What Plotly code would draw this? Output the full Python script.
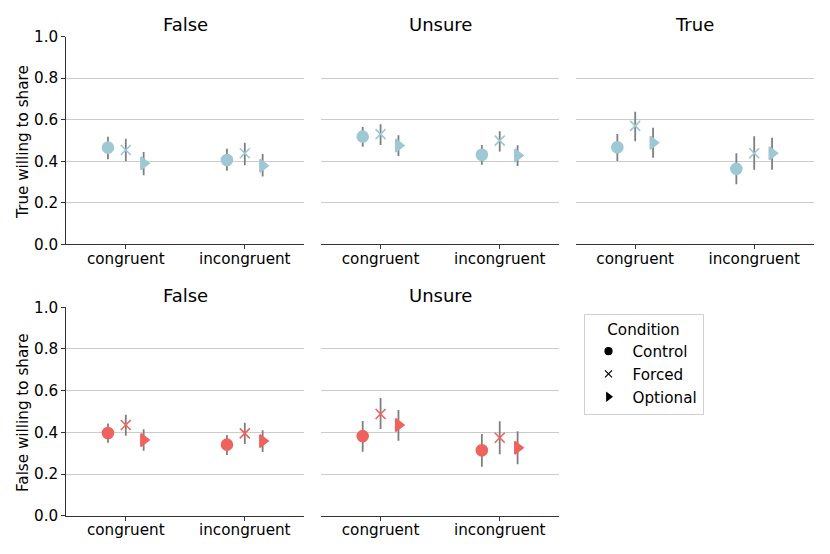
import plotly.graph_objects as go

categories = ["congruent", "incongruent"]
conditions = ["Control", "Forced", "Optional"]
columns = ["False", "Unsure", "True"]

# Row 1: True willing to share; mean, lower CI, upper CI per condition, per category
true_mean = {
    "False":  {"Control": [0.465, 0.406], "Forced": [0.454, 0.438], "Optional": [0.390, 0.378]},
    "Unsure": {"Control": [0.518, 0.431], "Forced": [0.530, 0.499], "Optional": [0.475, 0.427]},
    "True":   {"Control": [0.467, 0.363], "Forced": [0.570, 0.438], "Optional": [0.489, 0.438]},
}
true_lo = {
    "False":  {"Control": [0.409, 0.354], "Forced": [0.400, 0.380], "Optional": [0.332, 0.326]},
    "Unsure": {"Control": [0.470, 0.383], "Forced": [0.478, 0.446], "Optional": [0.425, 0.377]},
    "True":   {"Control": [0.401, 0.289], "Forced": [0.496, 0.359], "Optional": [0.417, 0.359]},
}
true_hi = {
    "False":  {"Control": [0.518, 0.460], "Forced": [0.508, 0.489], "Optional": [0.444, 0.435]},
    "Unsure": {"Control": [0.565, 0.478], "Forced": [0.578, 0.544], "Optional": [0.525, 0.477]},
    "True":   {"Control": [0.531, 0.438], "Forced": [0.638, 0.520], "Optional": [0.561, 0.513]},
}

# Row 2: False willing to share
false_mean = {
    "False":  {"Control": [0.397, 0.341], "Forced": [0.435, 0.395], "Optional": [0.363, 0.358]},
    "Unsure": {"Control": [0.382, 0.314], "Forced": [0.488, 0.374], "Optional": [0.435, 0.326]},
}
false_lo = {
    "False":  {"Control": [0.350, 0.291], "Forced": [0.384, 0.344], "Optional": [0.312, 0.306]},
    "Unsure": {"Control": [0.307, 0.235], "Forced": [0.416, 0.295], "Optional": [0.360, 0.247]},
}
false_hi = {
    "False":  {"Control": [0.443, 0.387], "Forced": [0.485, 0.446], "Optional": [0.415, 0.410]},
    "Unsure": {"Control": [0.454, 0.392], "Forced": [0.565, 0.453], "Optional": [0.507, 0.405]},
}

y_titles = ["True willing to share", "False willing to share"]
yticks = [0.0, 0.2, 0.4, 0.6, 0.8, 1.0]

BLUE = "#9dc8d4"
RED = "#f0625e"
symbols = {"Control": "circle", "Forced": "x-thin", "Optional": "triangle-right"}
dodge = {"Control": -0.15, "Forced": 0.0, "Optional": 0.15}

W, H = 830, 554
OFF = 8.0  # page body margin offset
col_px = [(66.3 - OFF, 304.3 - OFF), (321.0 - OFF, 559.3 - OFF), (575.7 - OFF, 813.7 - OFF)]
row_px = [(36.5 - OFF, 244.3 - OFF), (307.3 - OFF, 515.7 - OFF)]
FONT = "DejaVu Sans"
FS = 15.2
TFS = 18

fig = go.Figure()

layout = dict(
    width=W, height=H, margin=dict(l=0, r=0, t=0, b=0, pad=0, autoexpand=False),
    paper_bgcolor="white", plot_bgcolor="white",
    font=dict(family=FONT, size=FS, color="black"),
    showlegend=True,
)
annotations = []

rows = [(true_mean, true_lo, true_hi, BLUE), (false_mean, false_lo, false_hi, RED)]
ax = 0
for r, (mean_d, lo_d, hi_d, color) in enumerate(rows):
    for c, col in enumerate(columns):
        if col not in mean_d:
            continue
        ax += 1
        xa = "x" if ax == 1 else f"x{ax}"
        ya = "y" if ax == 1 else f"y{ax}"
        x0, x1 = col_px[c]
        y0, y1 = row_px[r]
        layout["xaxis" if ax == 1 else f"xaxis{ax}"] = dict(
            domain=[x0 / W, x1 / W], anchor=ya, range=[-0.5, 1.5],
            tickmode="array", tickvals=list(range(len(categories))), ticktext=categories,
            showgrid=False, zeroline=False, showline=True, linecolor="#333333", linewidth=1,
            ticks="outside", ticklen=4, tickcolor="#333333", automargin=False,
            ticklabelstandoff=-4,
            tickfont=dict(size=FS), fixedrange=True,
        )
        first = c == 0
        layout["yaxis" if ax == 1 else f"yaxis{ax}"] = dict(
            domain=[1 - y1 / H, 1 - y0 / H], anchor=xa, range=[0, 1.0],
            tickmode="array", tickvals=yticks, ticktext=[f"{t:.1f}" for t in yticks],
            showticklabels=first, showgrid=True, gridcolor="#cccccc", gridwidth=1,
            zeroline=False, showline=first, linecolor="#333333", linewidth=1,
            ticks="outside" if first else "", ticklen=4, tickcolor="#333333", automargin=False,
            tickfont=dict(size=FS), fixedrange=True,
        )
        annotations.append(dict(
            text=col, xref="paper", yref="paper", x=(x0 + x1) / 2 / W, y=1 - (y0 + 0.5) / H,
            xanchor="center", yanchor="bottom", showarrow=False, font=dict(size=TFS),
        ))
        if first:
            annotations.append(dict(
                text=y_titles[r], xref="paper", yref="paper", x=(23.0 - OFF) / W,
                y=1 - ((y0 + y1) / 2 + 1.5) / H, textangle=-90,
                xanchor="center", yanchor="middle", showarrow=False, font=dict(size=FS),
            ))
        for cond in conditions:
            m = mean_d[col][cond]
            lo = lo_d[col][cond]
            hi = hi_d[col][cond]
            xs = [i + dodge[cond] for i in range(len(categories))]
            fig.add_trace(go.Scatter(
                x=xs, y=m, mode="markers", xaxis=xa, yaxis=ya, showlegend=False,
                error_y=dict(type="data", symmetric=False,
                             array=[h - v for h, v in zip(hi, m)],
                             arrayminus=[v - l for v, l in zip(m, lo)],
                             color="#7f7f7f", thickness=1.8, width=0),
                marker=dict(symbol=symbols[cond], size=11 if cond != "Forced" else 10,
                            color=color, line=dict(color=color, width=1.6)),
                hoverinfo="skip",
            ))

# Legend-only traces
for cond in conditions:
    fig.add_trace(go.Scatter(
        x=[None], y=[None], mode="markers", name=cond, xaxis="x", yaxis="y",
        marker=dict(symbol=symbols[cond], size=7, color="black", line=dict(color="black", width=1.2)),
    ))

layout["annotations"] = annotations
layout["legend"] = dict(
    x=(583.5 - OFF) / W, y=1 - (314.0 - OFF) / H, xanchor="left", yanchor="top",
    bordercolor="#d0d0d0", borderwidth=1, bgcolor="white",
    title=dict(text="Condition", side="top center", font=dict(size=FS)),
    font=dict(size=FS), itemwidth=38,
)
fig.update_layout(**layout)
fig.write_html("out.html")
